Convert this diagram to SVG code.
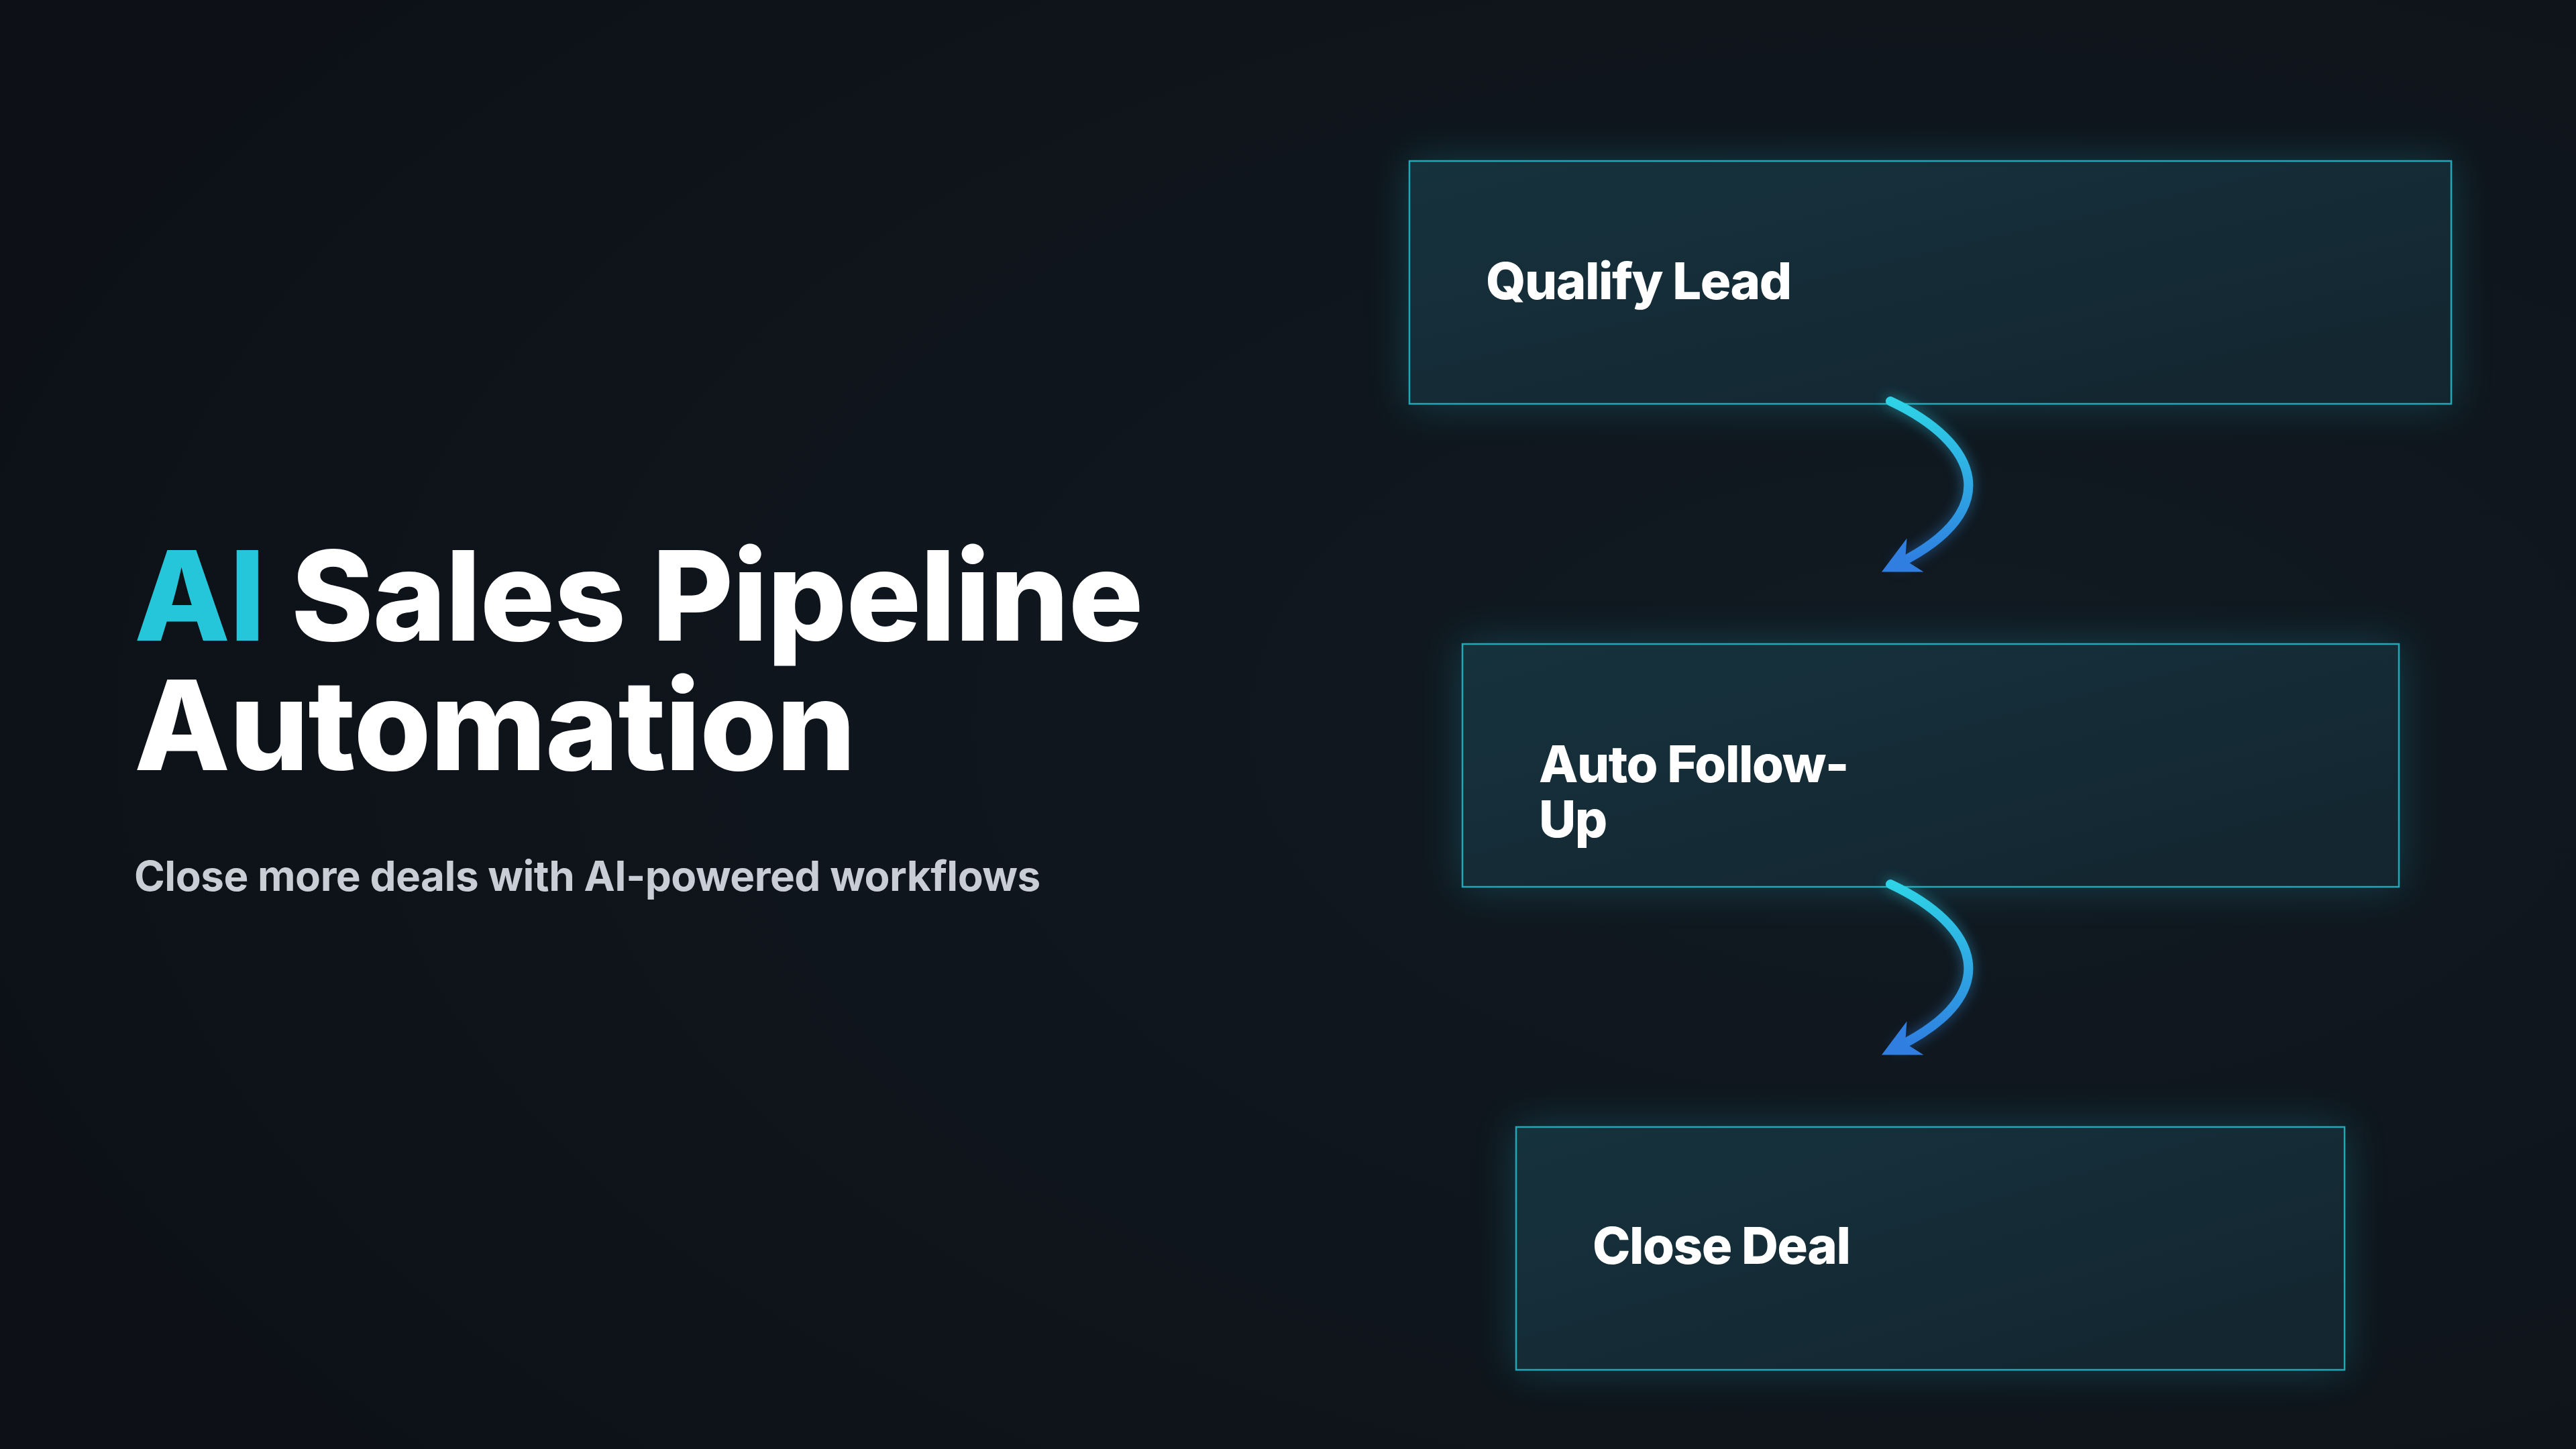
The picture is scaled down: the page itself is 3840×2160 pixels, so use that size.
<svg xmlns="http://www.w3.org/2000/svg" width="3840" height="2160" viewBox="0 0 3840 2160">
<defs>
<radialGradient id="bg" cx="0.75" cy="0.5" r="0.8">
<stop offset="0" stop-color="#111a22"/><stop offset="1" stop-color="#0d1117"/>
</radialGradient>
<linearGradient id="box" x1="0" y1="0" x2="1" y2="1">
<stop offset="0" stop-color="#16323d"/><stop offset="1" stop-color="#13252f"/>
</linearGradient>
<linearGradient id="arr" x1="0" y1="0" x2="0" y2="1">
<stop offset="0" stop-color="#2ed3e6"/><stop offset="1" stop-color="#2f7ee0"/>
</linearGradient>
<filter id="glow" x="-20%" y="-40%" width="140%" height="180%"><feGaussianBlur stdDeviation="30"/></filter>
<filter id="aglow" x="-50%" y="-50%" width="200%" height="200%"><feGaussianBlur stdDeviation="10"/></filter>
<marker id="head" viewBox="0 0 10 10" refX="5" refY="5" markerWidth="4" markerHeight="4" orient="auto"><path d="M0,0 L10,5 L0,10 L3,5 Z" fill="#2f7ee0"/></marker>
</defs>
<style>
.box{fill:url(#box);stroke:#1fa9b8;stroke-width:2.5}
.halo{fill:#1a8fa0;opacity:0.35}
.lbl{font-family:Inter,"Liberation Sans",sans-serif;font-weight:800;font-size:76px;fill:#ffffff;letter-spacing:-1.5px}
.conn{fill:none;stroke:url(#arr);stroke-width:14;stroke-linecap:round}
</style>
<rect width="3840" height="2160" fill="url(#bg)"/>
<g id="title" font-family="Inter,'Liberation Sans',sans-serif" font-weight="800">
<text x="200" y="955" font-size="186" fill="#ffffff" letter-spacing="-1"><tspan fill="#26c6da">AI</tspan> Sales Pipeline</text>
<text x="200" y="1148" font-size="186" fill="#ffffff" letter-spacing="-1">Automation</text>
<text x="200" y="1328" font-size="62" font-weight="700" fill="#c9ced6" letter-spacing="-0.5">Close more deals with AI-powered workflows</text>
</g>
<g id="node1"><rect class="halo" x="2101" y="240" width="1553" height="362" filter="url(#glow)"/><rect class="box" x="2101" y="240" width="1553" height="362"/><text class="lbl" x="2215" y="446">Qualify Lead</text></g>
<g id="node2"><rect class="halo" x="2180" y="960" width="1396" height="362" filter="url(#glow)"/><rect class="box" x="2180" y="960" width="1396" height="362"/><text class="lbl" x="2294" y="1166">Auto Follow-</text><text class="lbl" x="2294" y="1248">Up</text></g>
<g id="node3"><rect class="halo" x="2260" y="1680" width="1235" height="362" filter="url(#glow)"/><rect class="box" x="2260" y="1680" width="1235" height="362"/><text class="lbl" x="2374" y="1884">Close Deal</text></g>
<g id="connectors">
<path d="M2818,598 C2950,660 2990,760 2830,840" class="conn" stroke="#2ed3e6" opacity="0.5" filter="url(#aglow)"/>
<path d="M2818,598 C2950,660 2990,760 2830,840" class="conn" marker-end="url(#head)"/>
<path d="M2818,1318 C2950,1380 2990,1480 2830,1560" class="conn" stroke="#2ed3e6" opacity="0.5" filter="url(#aglow)"/>
<path d="M2818,1318 C2950,1380 2990,1480 2830,1560" class="conn" marker-end="url(#head)"/>
</g>
</svg>
